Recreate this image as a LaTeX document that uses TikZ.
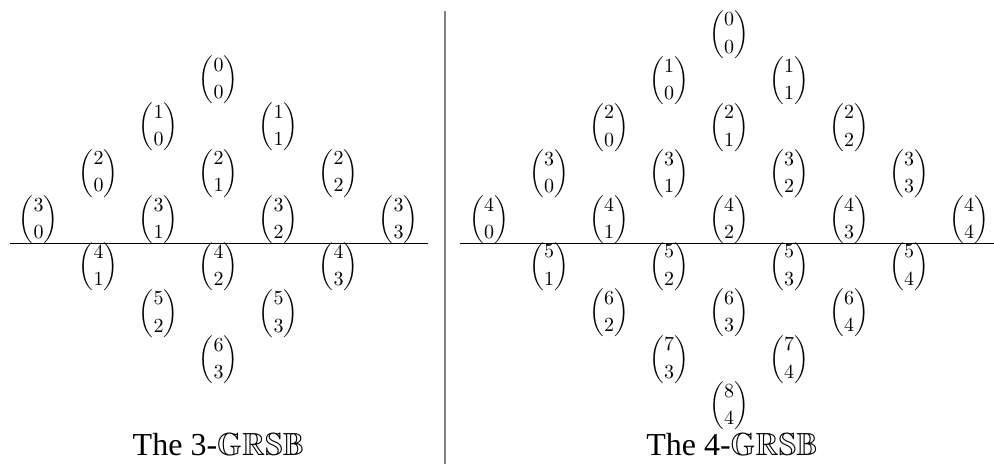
\documentclass[tikz,border=0pt]{standalone}
\usepackage{amsmath}
\usepackage{amssymb}
\usepackage{fontspec}
\setmainfont{Liberation Serif}
\usepackage{tikz}
\tikzset{
    entry/.style={inner sep=0pt},
    caption/.style={inner sep=0pt, anchor=base, font=\fontsize{16}{19}\selectfont},
    rule/.style={line width=0.55pt},
    divider/.style={draw=black!50, line width=0.6pt},
}

\begin{document}
\begin{tikzpicture}[x=0.5pt, y=-0.5pt]
    \useasboundingbox (0,0) rectangle (994,464);
    % the 3-triangle, rows 0..6
    \foreach \n in {0,...,6} {
        \pgfmathtruncatemacro{\kmin}{max(0,\n-3)}
        \pgfmathtruncatemacro{\kmax}{min(\n,3)}
        \foreach \k in {\kmin,...,\kmax}
            \node[entry] (l-\n-\k) at ({218.5+(2*\k-\n)*60}, {243.3+(\n-3.5)*46.7}) {$\dbinom{\n}{\k}$};
    }
    % the 4-triangle, rows 0..8
    \foreach \n in {0,...,8} {
        \pgfmathtruncatemacro{\kmin}{max(0,\n-4)}
        \pgfmathtruncatemacro{\kmax}{min(\n,4)}
        \foreach \k in {\kmin,...,\kmax}
            \node[entry] (r-\n-\k) at ({729+(2*\k-\n)*60}, {243.3+(\n-4.5)*46.4}) {$\dbinom{\n}{\k}$};
    }
    \draw[rule] (10,243.3) -- (428,243.3);
    \draw[rule] (460,243.3) -- (994,243.3);
    \draw[divider] (445,11.5) -- (445,464);
    \node[caption] (capl) at (218.5,455) {The 3-$\mathbb{GRSB}$};
    \node[caption] (capr) at (732,455) {The 4-$\mathbb{GRSB}$};
\end{tikzpicture}
\end{document}
